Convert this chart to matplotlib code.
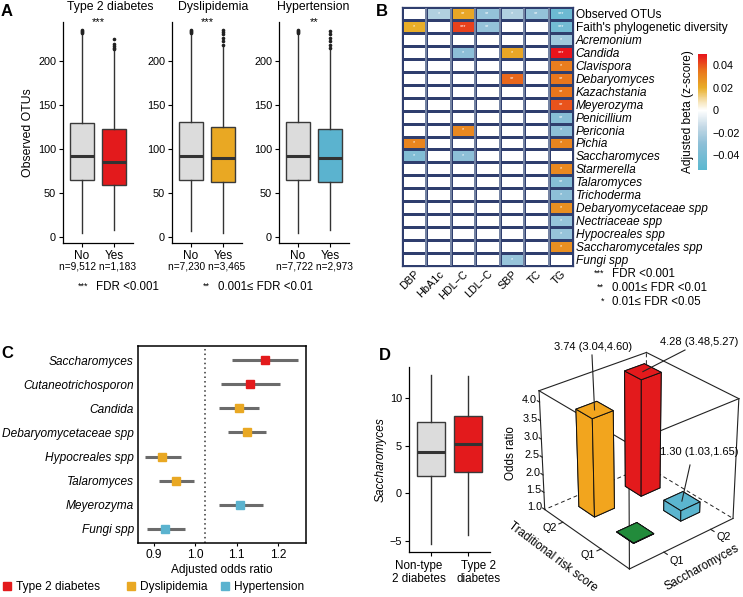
import numpy as np
import matplotlib
matplotlib.use('Agg')
import matplotlib.pyplot as plt
from matplotlib.colors import LinearSegmentedColormap, Normalize
from matplotlib.lines import Line2D
from matplotlib.transforms import blended_transform_factory
from mpl_toolkits.mplot3d import proj3d

plt.rcParams['font.family'] = ['Liberation Sans', 'DejaVu Sans']
plt.rcParams['axes.linewidth'] = 0.9

# -----------------------------------------------------------------------
# Panel A: observed OTUs by disease status
# -----------------------------------------------------------------------
a_groups = ['Type 2 diabetes', 'Dyslipidemia', 'Hypertension']
a_signif = ['***', '***', '**']
a_levels = ['No', 'Yes']
a_counts = ['n=9,512 n=1,183', 'n=7,230 n=3,465', 'n=7,722 n=2,973']
a_whislo = [[4, 8], [7, 4.5], [4.5, 7.5]]
a_q1 = [[65, 59], [65, 62], [64, 62]]
a_med = [[92, 85], [92, 89.5], [92, 89]]
a_q3 = [[129, 122], [130, 124.5], [130, 123]]
a_whishi = [[231, 212], [231, 216], [231, 212]]
a_fliers = [[[232, 233, 234, 235], [213, 215, 217, 219, 225]],
            [[232, 233, 234, 235], [218, 222, 226, 230, 233, 235]],
            [[232, 233, 234, 235], [214, 218, 222, 226, 230, 234]]]
a_colors = ['#E31A1C', '#E9A823', '#5BB3CF']

# -----------------------------------------------------------------------
# Panel B: adjusted beta heatmap
# -----------------------------------------------------------------------
b_rows = ['Observed OTUs', "Faith's phylogenetic diversity", 'Acremonium', 'Candida',
          'Clavispora', 'Debaryomyces', 'Kazachstania', 'Meyerozyma', 'Penicillium',
          'Periconia', 'Pichia', 'Saccharomyces', 'Starmerella', 'Talaromyces',
          'Trichoderma', 'Debaryomycetaceae spp', 'Nectriaceae spp', 'Hypocreales spp',
          'Saccharomycetales spp', 'Fungi spp']
b_cols = ['DBP', 'HbA1c', 'HDL\u2212C', 'LDL\u2212C', 'SBP', 'TC', 'TG']
b_beta = [
    [0, -0.020, 0.022, -0.028, -0.020, -0.028, -0.045],
    [0.020, 0, 0.043, -0.028, 0, 0, -0.042],
    [0, 0, 0, 0, 0, 0, -0.025],
    [0, 0, -0.030, 0, 0.022, 0, 0.050],
    [0, 0, 0, 0, 0, 0, 0.033],
    [0, 0, 0, 0, 0.037, 0, 0.035],
    [0, 0, 0, 0, 0, 0, 0.035],
    [0, 0, 0, 0, 0, 0, 0.040],
    [0, 0, 0, 0, 0, 0, -0.033],
    [0, 0, 0.030, 0, 0, 0, -0.030],
    [0.031, 0, 0, 0, 0, 0, 0.031],
    [-0.035, 0, -0.030, 0, 0, 0, 0],
    [0, 0, 0, 0, 0, 0, 0.030],
    [0, 0, 0, 0, 0, 0, -0.033],
    [0, 0, 0, 0, 0, 0, -0.030],
    [0, 0, 0, 0, 0, 0, 0.028],
    [0, 0, 0, 0, 0, 0, -0.027],
    [0, 0, 0, 0, 0, 0, -0.027],
    [0, 0, 0, 0, 0, 0, 0.028],
    [0, 0, 0, 0, -0.027, 0, 0],
]
b_stars = [
    ['', '*', '**', '**', '*', '**', '***'],
    ['*', '', '***', '**', '', '', '***'],
    ['', '', '', '', '', '', '*'],
    ['', '', '*', '', '*', '', '***'],
    ['', '', '', '', '', '', '*'],
    ['', '', '', '', '**', '', '**'],
    ['', '', '', '', '', '', '**'],
    ['', '', '', '', '', '', '**'],
    ['', '', '', '', '', '', '**'],
    ['', '', '*', '', '', '', '*'],
    ['*', '', '', '', '', '', '*'],
    ['*', '', '*', '', '', '', ''],
    ['', '', '', '', '', '', '*'],
    ['', '', '', '', '', '', '**'],
    ['', '', '', '', '', '', '*'],
    ['', '', '', '', '', '', '*'],
    ['', '', '', '', '', '', '*'],
    ['', '', '', '', '', '', '*'],
    ['', '', '', '', '', '', '*'],
    ['', '', '', '', '*', '', ''],
]
b_cbar_ticks = [-0.04, -0.02, 0, 0.02, 0.04]
b_cbar_labels = ['\u22120.04', '\u22120.02', '0', '0.02', '0.04']

# -----------------------------------------------------------------------
# Panel C: adjusted odds ratios
# -----------------------------------------------------------------------
c_taxa = ['Saccharomyces', 'Cutaneotrichosporon', 'Candida', 'Debaryomycetaceae spp',
          'Hypocreales spp', 'Talaromyces', 'Meyerozyma', 'Fungi spp']
c_or = [1.169, 1.132, 1.105, 1.124, 0.920, 0.953, 1.109, 0.926]
c_lo = [1.089, 1.062, 1.057, 1.078, 0.879, 0.911, 1.057, 0.882]
c_hi = [1.249, 1.205, 1.154, 1.172, 0.965, 0.996, 1.164, 0.974]
c_trait = [0, 0, 1, 1, 1, 1, 2, 2]   # index into a_groups / a_colors

# -----------------------------------------------------------------------
# Panel D: Saccharomyces boxplot and joint odds ratios
# -----------------------------------------------------------------------
d_levels = ['Non-type\n2 diabetes', 'Type 2\ndiabetes']
d_whislo = [-5.37, -4.42]
d_q1 = [1.84, 2.23]
d_med = [4.35, 5.23]
d_q3 = [7.53, 8.13]
d_whishi = [12.47, 12.37]
d_box_colors = ['#DCDCDC', '#E31A1C']

d_sacc = [1, 2, 1, 2]      # Q1 / Q2 of Saccharomyces
d_trad = [1, 1, 2, 2]      # Q1 / Q2 of traditional risk score
d_or = [1.0, 1.30, 3.74, 4.28]
d_text = ['', '1.30 (1.03,1.65)', '3.74 (3.04,4.60)', '4.28 (3.48,5.27)']
d_bar_colors = ['#228B3B', '#5BB5CF', '#F2A51E', '#E31A1C']
d_zticks = [1.0, 1.5, 2.0, 2.5, 3.0, 3.5, 4.0]

W, H = 743, 597
fig = plt.figure(figsize=(W / 100, H / 100), dpi=100)


def px_axes(x0, y0, x1, y1, **kw):
    # rectangle given in pixels from the top-left corner
    return fig.add_axes([x0 / W, 1 - y1 / H, (x1 - x0) / W, (y1 - y0) / H], **kw)


def ftext(x, y, s, **kw):
    # text placed in pixels from the top-left corner
    return fig.text(x / W, 1 - y / H, s, **kw)


# ---------------------------- Panel A -----------------------------------
a_left = [63, 172, 279]
a_title_x = [110, 213, 313]
for g in range(3):
    ax = px_axes(a_left[g], 22, a_left[g] + 70, 243)
    stats = []
    for k in range(2):
        stats.append(dict(med=a_med[g][k], q1=a_q1[g][k], q3=a_q3[g][k],
                          whislo=a_whislo[g][k], whishi=a_whishi[g][k],
                          fliers=a_fliers[g][k]))
    bp = ax.bxp(stats, positions=[1, 2], widths=0.75, patch_artist=True,
                showcaps=False,
                boxprops=dict(edgecolor='#3A3A3A', linewidth=1.0),
                medianprops=dict(color='#333333', linewidth=2.2),
                whiskerprops=dict(color='#333333', linewidth=1.0),
                flierprops=dict(marker='o', markersize=1.6, markerfacecolor='#222222',
                                markeredgecolor='#222222'))
    bp['boxes'][0].set_facecolor('#DCDCDC')
    bp['boxes'][1].set_facecolor(a_colors[g])
    ax.set_xlim(0.4, 2.6)
    ax.set_ylim(-7, 244)
    ax.set_yticks([0, 50, 100, 150, 200])
    ax.set_xticks([1, 2])
    ax.set_xticklabels(a_levels, fontsize=8.5)
    ax.tick_params(axis='y', labelsize=7.8, length=3, width=0.8, pad=2)
    ax.tick_params(axis='x', length=3, width=0.8, pad=2)
    for s in ['top', 'right']:
        ax.spines[s].set_visible(False)
    ax.text(0.5, -0.105, a_counts[g], transform=ax.transAxes, ha='center', va='center',
            fontsize=7.3)
    ax.text(0.5, 1.0, a_signif[g], transform=ax.transAxes, ha='center', va='center',
            fontsize=8)
    ftext(a_title_x[g], 7, a_groups[g], ha='center', va='center', fontsize=8.8)
    if g == 0:
        ax.set_ylabel('Observed OTUs', fontsize=8.8, labelpad=3)

ftext(88, 286, '***', ha='right', va='center', fontsize=6.5)
ftext(96, 287, 'FDR <0.001', ha='left', va='center', fontsize=8.3)
ftext(210, 286, '**', ha='right', va='center', fontsize=6.5)
ftext(218, 287, '0.001\u2264 FDR <0.01', ha='left', va='center', fontsize=8.3)

# ---------------------------- Panel B -----------------------------------
vmin, vmax = -0.053, 0.05
stops = [(-0.053, '#5BB8D0'), (-0.03, '#8DBFD7'), (-0.015, '#C3D8E5'), (0, '#FFFFFF'),
         (0.008, '#F6E3B5'), (0.02, '#E9AE28'), (0.035, '#E9761C'), (0.05, '#E8141C')]
cmap = LinearSegmentedColormap.from_list(
    'beta', [((v - vmin) / (vmax - vmin), c) for v, c in stops])
norm = Normalize(vmin=vmin, vmax=vmax)

axB = px_axes(402, 7, 573, 266)
beta = np.array(b_beta)
mesh = axB.pcolormesh(beta, cmap=cmap, norm=norm, edgecolors='#2F3E6E', linewidth=0.8)
for j in range(1, len(b_cols)):
    axB.axvline(j, color='#8391AD', linewidth=1.2)
axB.set_xlim(0, len(b_cols))
axB.set_ylim(len(b_rows), 0)
for i in range(len(b_rows)):
    for j in range(len(b_cols)):
        if b_stars[i][j]:
            axB.text(j + 0.5, i + 0.5, b_stars[i][j], ha='center', va='center',
                     fontsize=4, color='white')
axB.set_yticks(np.arange(len(b_rows)) + 0.5)
axB.set_yticklabels(b_rows, fontsize=8.6)
axB.yaxis.tick_right()
for i, lab in enumerate(axB.get_yticklabels()):
    if i >= 2:
        lab.set_fontstyle('italic')
axB.set_xticks(np.arange(len(b_cols)) + 0.5)
axB.set_xticklabels(b_cols, fontsize=7.8, rotation=45, ha='right', va='top',
                    rotation_mode='anchor')
axB.tick_params(length=0, pad=2)
for s in axB.spines.values():
    s.set_color('#2F3E6E')

cax = px_axes(698, 54, 707, 170)
cb = fig.colorbar(mesh, cax=cax, ticks=b_cbar_ticks)
cb.set_ticklabels(b_cbar_labels)
cb.outline.set_visible(False)
cax.tick_params(labelsize=7.8, length=2, width=0.6, color='white', pad=2)
cax.yaxis.set_label_position('left')
cax.set_ylabel('Adjusted beta (z-score)', fontsize=8.6, labelpad=3)

ftext(604, 273, '***', ha='right', va='center', fontsize=6.5)
ftext(612, 274, 'FDR <0.001', ha='left', va='center', fontsize=8.3)
ftext(604, 287, '**', ha='right', va='center', fontsize=6.5)
ftext(612, 288, '0.001\u2264 FDR <0.01', ha='left', va='center', fontsize=8.3)
ftext(604, 301, '*', ha='right', va='center', fontsize=6.5)
ftext(612, 302, '0.01\u2264 FDR <0.05', ha='left', va='center', fontsize=8.3)

# ---------------------------- Panel C -----------------------------------
axC = px_axes(138, 346, 306, 543)
ypos = np.arange(1, len(c_taxa) + 1)
axC.axvline(1.024, color='#333333', linestyle=(0, (1, 2)), linewidth=1.1)
for i in range(len(c_taxa)):
    axC.plot([c_lo[i], c_hi[i]], [ypos[i], ypos[i]], color='#6B6B6B', linewidth=2.2,
             solid_capstyle='butt', zorder=2)
    axC.plot(c_or[i], ypos[i], marker='s', markersize=5.6, color=a_colors[c_trait[i]],
             linestyle='none', zorder=3)
axC.set_ylim(len(c_taxa) + 0.6, 0.4)
axC.set_xlim(0.861, 1.268)
axC.set_yticks(ypos)
axC.set_yticklabels(c_taxa, fontsize=8.6, fontstyle='italic')
axC.set_xticks([0.9, 1.0, 1.1, 1.2])
axC.set_xticklabels(['0.9', '1.0', '1.1', '1.2'])
axC.tick_params(axis='y', length=0, pad=3)
axC.tick_params(axis='x', labelsize=8.6, length=2.5, width=0.8, pad=2)
axC.set_xlabel('Adjusted odds ratio', fontsize=8.6, labelpad=2)
for s in axC.spines.values():
    s.set_linewidth(1.1)

leg_x = [3, 127, 221]
for k in range(3):
    h = Line2D([], [], marker='s', linestyle='none', markersize=6, color=a_colors[k])
    fig.legend([h], [a_groups[k]], loc='center left',
               bbox_to_anchor=(leg_x[k] / W, 1 - 587 / H), frameon=False, fontsize=8.6,
               handlelength=0.6, handletextpad=0.5, borderpad=0, borderaxespad=0)

# ---------------------------- Panel D -----------------------------------
axD = px_axes(409, 367, 490, 552)
stats = [dict(med=d_med[k], q1=d_q1[k], q3=d_q3[k], whislo=d_whislo[k],
              whishi=d_whishi[k], fliers=[]) for k in range(2)]
bp = axD.bxp(stats, positions=[1, 2], widths=0.75, patch_artist=True, showcaps=False,
             boxprops=dict(edgecolor='#3A3A3A', linewidth=1.0),
             medianprops=dict(color='#333333', linewidth=2.2),
             whiskerprops=dict(color='#333333', linewidth=1.0))
for k in range(2):
    bp['boxes'][k].set_facecolor(d_box_colors[k])
axD.set_xlim(0.4, 2.6)
axD.set_ylim(-6.2, 13.3)
axD.set_yticks([-5, 0, 5, 10])
axD.set_yticklabels(['\u22125', '0', '5', '10'])
axD.set_xticks([1, 2])
axD.set_xticklabels([])
tr = blended_transform_factory(axD.transData, axD.transAxes)
for xk, lab in zip([0.66, 2.3], d_levels):
    axD.text(xk, -0.045, lab, transform=tr, ha='center', va='top', fontsize=8.4,
             linespacing=1.05)
axD.tick_params(axis='y', labelsize=7.8, length=3, width=0.8, pad=2)
axD.tick_params(axis='x', length=3, width=0.8, pad=2)
for s in ['top', 'right']:
    axD.spines[s].set_visible(False)
axD.set_ylabel('Saccharomyces', fontsize=8.6, fontstyle='italic', labelpad=2)

# 3D odds ratio bars (view fitted to the reference box corners)
ax3 = fig.add_axes([0.6742, 0.0, 0.36, 0.46], projection='3d', proj_type='persp',
                   focal_length=0.8)
ax3.set_axis_off()
ax3.patch.set_alpha(0)
ax3.view_init(elev=30, azim=-130)
X0, X1, Y0, Y1, Z0, Z1 = 0.3, 2.5, 0.3, 2.5, 1.0, 4.3
ax3.set_xlim(X0, X1)
ax3.set_ylim(Y0, Y1)
ax3.set_zlim(Z0, Z1)
ax3.set_box_aspect((1, 1, 1.0), zoom=0.865)

solid = [((X0, Y0, Z0), (X1, Y0, Z0)), ((X0, Y0, Z0), (X0, Y1, Z0)),
         ((X0, Y0, Z1), (X1, Y0, Z1)), ((X0, Y0, Z1), (X0, Y1, Z1)),
         ((X1, Y1, Z1), (X1, Y0, Z1)), ((X1, Y1, Z1), (X0, Y1, Z1)),
         ((X0, Y0, Z0), (X0, Y0, Z1)), ((X1, Y0, Z0), (X1, Y0, Z1)),
         ((X0, Y1, Z0), (X0, Y1, Z1))]
dashed = [((X1, Y1, Z0), (X1, Y0, Z0)), ((X1, Y1, Z0), (X0, Y1, Z0)),
          ((X1, Y1, Z0), (X1, Y1, Z1))]
for p, q in solid:
    ax3.plot(*zip(p, q), color='#222222', linewidth=0.8)
for p, q in dashed:
    ax3.plot(*zip(p, q), color='#222222', linewidth=0.7, linestyle=(0, (4, 3)))

bw = 0.42
for k in range(len(d_or)):
    ax3.bar3d(d_sacc[k] - bw / 2, d_trad[k] - bw / 2, Z0, bw, bw,
              max(d_or[k] - Z0, 0.01), color=d_bar_colors[k], shade=False,
              edgecolor='#111111', linewidth=0.7)

for q, lab in zip([1, 2], ['Q1', 'Q2']):
    ax3.plot([X0, X0 - 0.08], [q, q], [Z0, Z0], color='#222222', linewidth=0.8)
    ax3.text(X0 - 0.26, q, Z0, lab, ha='center', va='center', fontsize=7.8)
    ax3.plot([q, q], [Y0, Y0 - 0.08], [Z0, Z0], color='#222222', linewidth=0.8)
    ax3.text(q, Y0 - 0.3, Z0, lab, ha='center', va='center', fontsize=7.8)
for z in d_zticks:
    ax3.plot([X0, X0], [Y1, Y1 + 0.06], [z, z], color='#222222', linewidth=0.8)
    ax3.text(X0, Y1 + 0.08, z, f'{z:.1f}', ha='right', va='center', fontsize=7.8)

ftext(511, 453, 'Odds ratio', ha='center', va='center', rotation=90, fontsize=8.4)
ftext(553, 557, 'Traditional risk score', ha='center', va='center', rotation=-37,
      fontsize=8.4)
ftext(702, 568, 'Saccharomyces', ha='center', va='center', rotation=29, fontsize=8.4)

# value labels with leader lines to the projected bar tops
fig.canvas.draw()
label_xy = {1: (699, 452), 2: (593, 347), 3: (699, 342)}
lead_end = {1: (690, 465), 2: (592, 355), 3: (685, 350)}
for k, (lx, ly) in label_xy.items():
    xs, ys, _ = proj3d.proj_transform(d_sacc[k], d_trad[k], d_or[k], ax3.M)
    bx, by = fig.transFigure.inverted().transform(ax3.transData.transform((xs, ys)))
    ex, ey = lead_end[k]
    fig.add_artist(Line2D([bx, ex / W], [by, 1 - ey / H], color='#222222',
                          linewidth=0.8, transform=fig.transFigure))
    ftext(lx, ly, d_text[k], ha='center', va='center', fontsize=8.0)

# panel letters
for lab, (x, y) in {'A': (7, 11), 'B': (382, 11), 'C': (7, 354), 'D': (385, 355)}.items():
    ftext(x, y, lab, ha='center', va='center', fontsize=12, fontweight='bold')

fig.savefig('out.png', dpi=100)
